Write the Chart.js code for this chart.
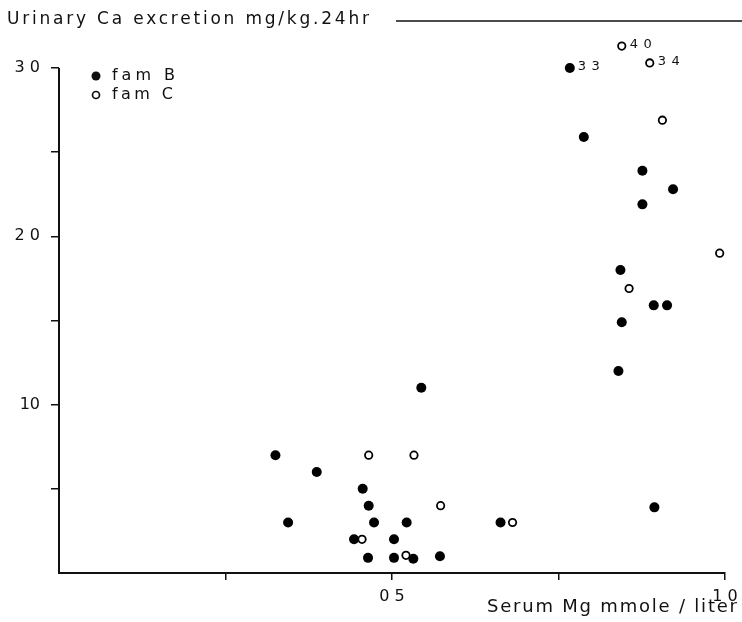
<!DOCTYPE html>
<html>
<head>
<meta charset="utf-8">
<script src="https://cdn.jsdelivr.net/npm/chart.js@4.4.0/dist/chart.umd.min.js"></script>
<style>
html, body { margin: 0; padding: 0; background: #fff; }
</style>
</head>
<body>
<canvas id="chart" width="742" height="622"></canvas>
<script>
// fam B (filled dots)
var famBX = [0.544, 0.325, 0.387, 0.456, 0.465, 0.344, 0.473, 0.522, 0.663, 0.443, 0.503, 0.464, 0.503, 0.532, 0.572,
             0.876, 0.922, 0.876, 0.843, 0.893, 0.913, 0.845, 0.840, 0.894, 0.788, 0.767];
var famBY = [11, 7, 6, 5, 4, 3, 3, 3, 3, 2, 2, 0.9, 0.9, 0.85, 1.0,
             23.9, 22.8, 21.9, 18, 15.9, 15.9, 14.9, 12, 3.9, 25.9, 30];
var famBNotes = ['', '', '', '', '', '', '', '', '', '', '', '', '', '', '',
                 '', '', '', '', '', '', '', '', '', '', '33'];

// fam C (open circles)
var famCX = [0.465, 0.533, 0.573, 0.681, 0.455, 0.521, 0.992, 0.856, 0.906, 0.845, 0.887];
var famCY = [7, 7, 4, 3, 2, 1.05, 19, 16.9, 26.9, 31.3, 30.3];
var famCNotes = ['', '', '', '', '', '', '', '', '', '40', '34'];

var xTickValues = [0.25, 0.5, 0.75, 1.0];
var xTickText = ['', '0 5', '', '1 0'];
var yTickValues = [5, 10, 15, 20, 25, 30];
var yTickText = ['', '10', '', '2 0', '', '3 0'];

var FONT = '"DejaVu Sans", sans-serif';

function toPoints(xs, ys) {
    return xs.map(function(x, i) { return {x: x, y: ys[i]}; });
}

function pickLabel(values, texts, v) {
    for (var i = 0; i < values.length; i++) {
        if (Math.abs(values[i] - v) < 1e-6) return texts[i];
    }
    return null;
}

// stretch text to a given width, the original lettering is wide
function spaced(ctx, text, x, y, width) {
    ctx.letterSpacing = '0px';
    var w = ctx.measureText(text).width;
    var gap = (width - w) / Math.max(text.length - 1, 1);
    ctx.letterSpacing = gap + 'px';
    ctx.fillText(text, x, y);
    ctx.letterSpacing = '0px';
}

var paperText = {
    id: 'paperText',
    beforeDatasetsDraw: function(chart) {
        // y axis line only runs up to 30, the off-scale points sit above it
        var ctx = chart.ctx;
        var y = chart.scales.y;
        var left = chart.chartArea.left;
        ctx.save();
        ctx.strokeStyle = '#111';
        ctx.lineWidth = 2;
        ctx.beginPath();
        ctx.moveTo(left, y.getPixelForValue(0) + 1);
        ctx.lineTo(left, y.getPixelForValue(30));
        ctx.stroke();
        ctx.restore();
    },
    afterDatasetsDraw: function(chart) {
        var ctx = chart.ctx;
        ctx.save();
        ctx.fillStyle = '#111';
        ctx.strokeStyle = '#111';
        ctx.textBaseline = 'middle';
        ctx.textAlign = 'left';

        ctx.font = '17px ' + FONT;
        spaced(ctx, 'Urinary Ca excretion mg/kg.24hr', 7, 20, 362);
        ctx.lineWidth = 1.5;
        ctx.beginPath();
        ctx.moveTo(396, 21);
        ctx.lineTo(742, 21);
        ctx.stroke();

        // legend
        ctx.beginPath();
        ctx.arc(96, 76, 4.5, 0, Math.PI * 2);
        ctx.fill();
        ctx.lineWidth = 1.7;
        ctx.beginPath();
        ctx.arc(96, 95, 3.5, 0, Math.PI * 2);
        ctx.stroke();
        ctx.font = '16px ' + FONT;
        spaced(ctx, 'fam B', 112, 76, 63);
        spaced(ctx, 'fam C', 112, 95, 61);

        // off-scale values
        ctx.font = '13px ' + FONT;
        var sets = [famBNotes, famCNotes];
        sets.forEach(function(notes, d) {
            var meta = chart.getDatasetMeta(d);
            notes.forEach(function(n, i) {
                if (!n) return;
                var p = meta.data[i];
                spaced(ctx, n, p.x + 8, p.y - 1, 22);
            });
        });

        ctx.font = '18px ' + FONT;
        spaced(ctx, 'Serum Mg mmole / liter', 487, 607, 250);
        ctx.restore();
    }
};

new Chart(document.getElementById('chart'), {
    type: 'scatter',
    data: {
        datasets: [
            {
                label: 'fam B',
                data: toPoints(famBX, famBY),
                pointRadius: 5,
                pointHoverRadius: 5,
                backgroundColor: '#000',
                borderColor: '#000',
                borderWidth: 0,
                clip: false,
                order: 2
            },
            {
                label: 'fam C',
                data: toPoints(famCX, famCY),
                pointRadius: 3.7,
                pointHoverRadius: 3.7,
                backgroundColor: '#fff',
                borderColor: '#000',
                borderWidth: 1.8,
                clip: false,
                order: 1
            }
        ]
    },
    options: {
        responsive: false,
        animation: false,
        layout: { padding: { top: 42.75, right: 17, left: 0, bottom: 0 } },
        plugins: {
            legend: { display: false },
            tooltip: { enabled: false }
        },
        scales: {
            x: {
                type: 'linear',
                min: 0,
                max: 1,
                afterFit: function(s) {
                    s.height = 49;
                    s.paddingLeft = 0;
                    s.paddingRight = 0;
                },
                ticks: {
                    stepSize: 0.25,
                    autoSkip: false,
                    maxRotation: 0,
                    padding: 7,
                    color: '#111',
                    font: { family: FONT, size: 16 },
                    callback: function(v) { return pickLabel(xTickValues, xTickText, v); }
                },
                grid: { drawOnChartArea: false, drawTicks: true, tickLength: 7, color: '#111', lineWidth: 1.5 },
                border: { color: '#111', width: 2 }
            },
            y: {
                min: 0,
                max: 31.5,
                afterFit: function(s) {
                    s.width = 59;
                    s.paddingTop = 0;
                    s.paddingBottom = 0;
                },
                ticks: {
                    stepSize: 5,
                    autoSkip: false,
                    padding: 11,
                    color: '#111',
                    font: { family: FONT, size: 16 },
                    callback: function(v) { return pickLabel(yTickValues, yTickText, v); }
                },
                grid: { drawOnChartArea: false, drawTicks: true, tickLength: 8, color: '#111', lineWidth: 1.5 },
                border: { display: false }
            }
        }
    },
    plugins: [paperText]
});
</script>
</body>
</html>
